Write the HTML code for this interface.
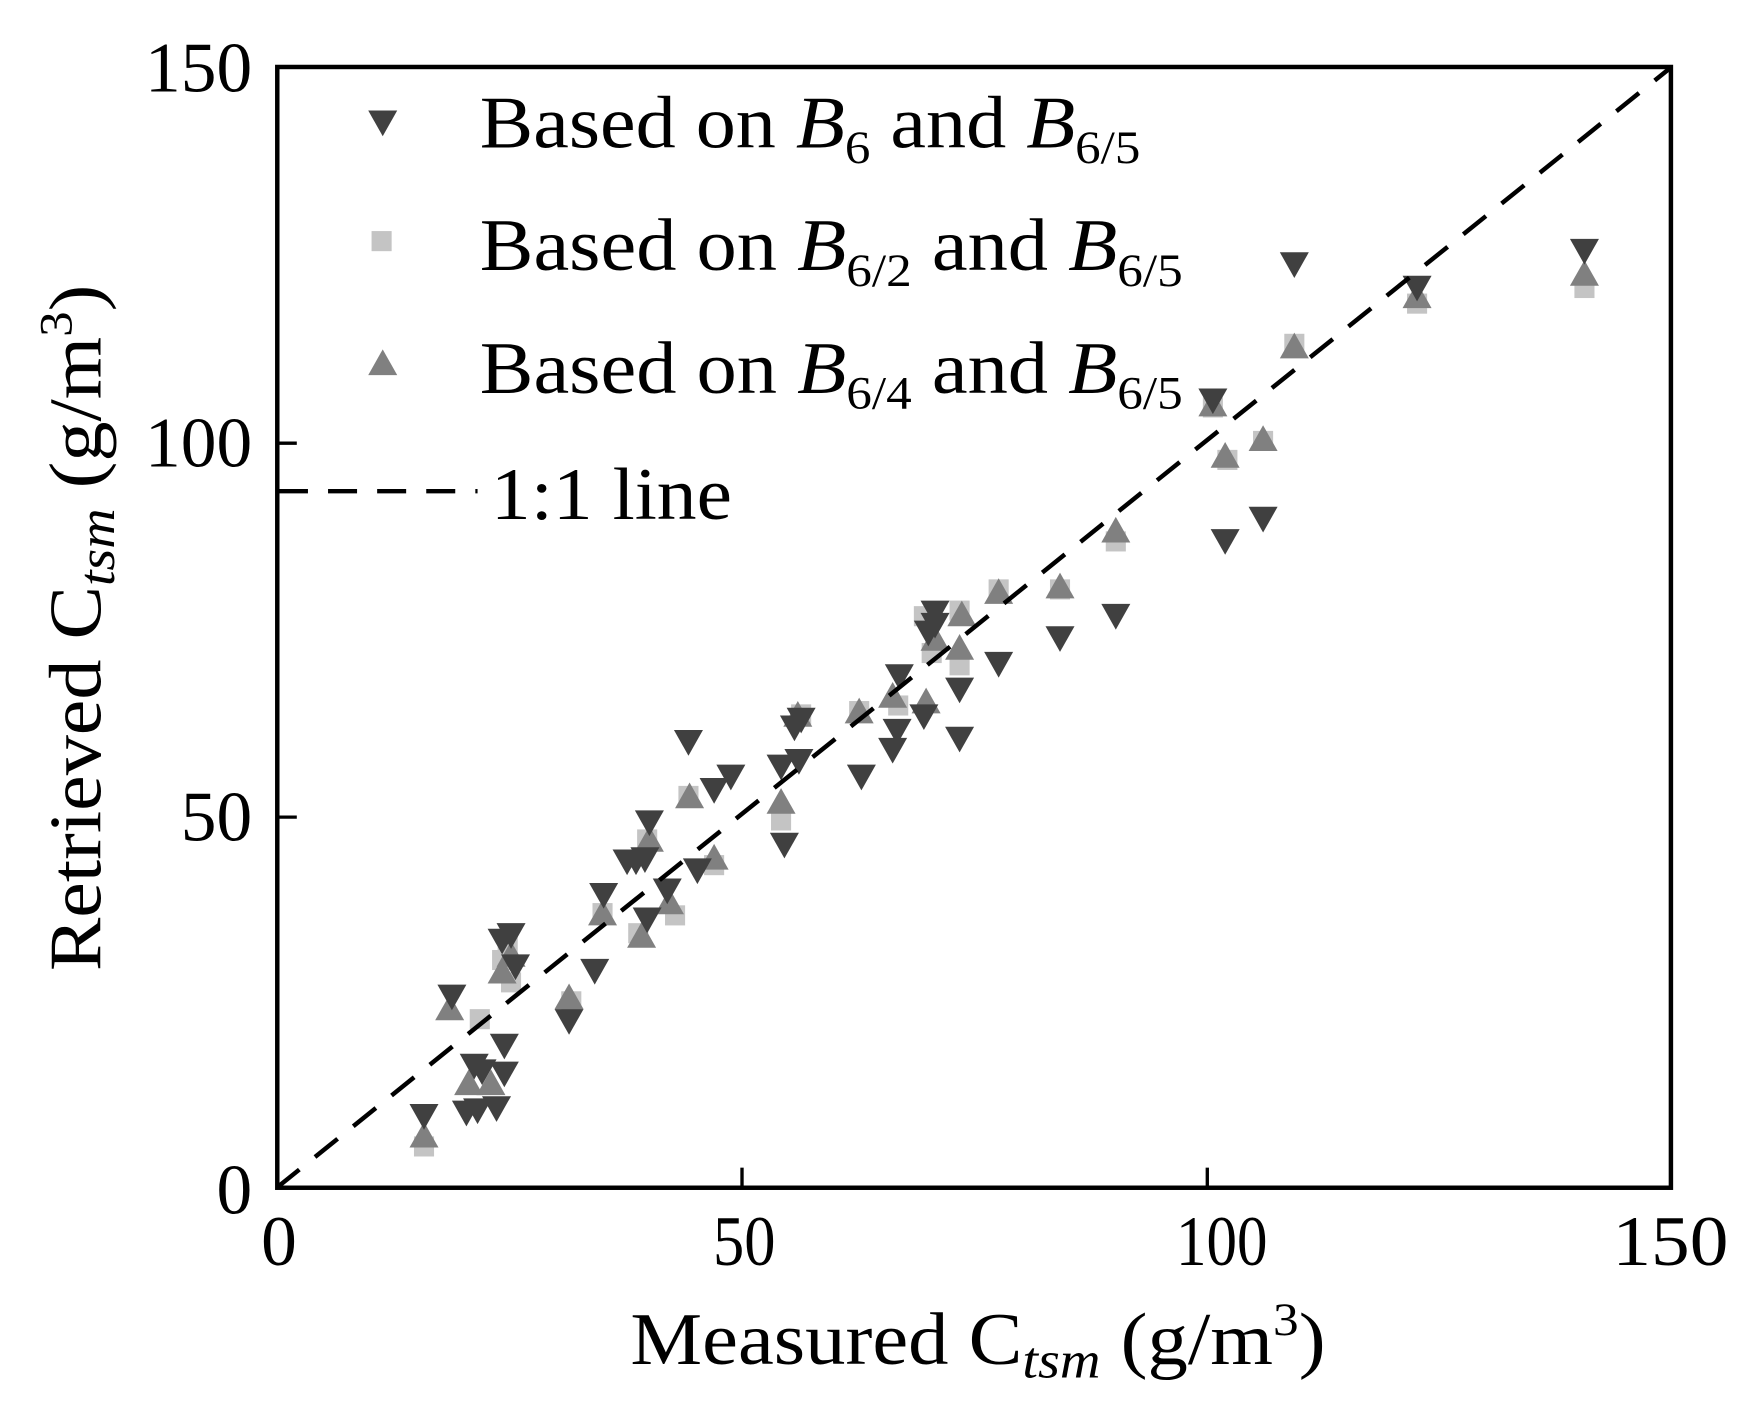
<!DOCTYPE html>
<html><head><meta charset="utf-8"><style>html,body{margin:0;padding:0;background:#fff;}svg{display:block}</style></head>
<body>
<svg width="1744" height="1411" viewBox="0 0 1563 1264" preserveAspectRatio="none" xmlns="http://www.w3.org/2000/svg" font-family="Liberation Serif, serif">
<defs>
<polygon id="dn" points="-13,-11 13,-11 0,12" fill="#404040"/>
<polygon id="up" points="-13,11 13,11 0,-12" fill="#808080"/>
<rect id="sq" x="-9" y="-9" width="18" height="18" fill="#c4c4c4"/>
</defs>
<rect x="0" y="0" width="1563" height="1264" fill="#fff"/>
<g>
<use href="#sq" x="380" y="1027"/><use href="#sq" x="430" y="913"/><use href="#sq" x="450" y="860"/><use href="#sq" x="455" y="848"/><use href="#sq" x="458" y="880"/><use href="#sq" x="512" y="897"/><use href="#sq" x="540" y="818"/><use href="#sq" x="572" y="836"/><use href="#sq" x="580" y="752"/><use href="#sq" x="605" y="820"/><use href="#sq" x="617" y="713"/><use href="#sq" x="640" y="775"/><use href="#sq" x="700" y="735"/><use href="#sq" x="718" y="640"/><use href="#sq" x="770" y="637"/><use href="#sq" x="805" y="632"/><use href="#sq" x="828" y="552"/><use href="#sq" x="835" y="585"/><use href="#sq" x="860" y="547"/><use href="#sq" x="860" y="596"/><use href="#sq" x="895" y="528"/><use href="#sq" x="950" y="528"/><use href="#sq" x="1000" y="485"/><use href="#sq" x="1087" y="365"/><use href="#sq" x="1100" y="412"/><use href="#sq" x="1132" y="395"/><use href="#sq" x="1160" y="308"/><use href="#sq" x="1270" y="272"/><use href="#sq" x="1420" y="258"/>
</g>
<g>
<use href="#up" x="380" y="1017"/><use href="#up" x="403" y="903"/><use href="#up" x="420" y="970"/><use href="#up" x="440" y="970"/><use href="#up" x="450" y="870"/><use href="#up" x="458" y="855"/><use href="#up" x="510" y="893"/><use href="#up" x="540" y="818"/><use href="#up" x="575" y="838"/><use href="#up" x="582" y="752"/><use href="#up" x="600" y="808"/><use href="#up" x="618" y="713"/><use href="#up" x="640" y="768"/><use href="#up" x="700" y="718"/><use href="#up" x="715" y="640"/><use href="#up" x="770" y="637"/><use href="#up" x="800" y="623"/><use href="#up" x="830" y="628"/><use href="#up" x="838" y="572"/><use href="#up" x="860" y="580"/><use href="#up" x="862" y="550"/><use href="#up" x="895" y="530"/><use href="#up" x="950" y="525"/><use href="#up" x="1000" y="475"/><use href="#up" x="1087" y="362"/><use href="#up" x="1098" y="408"/><use href="#up" x="1132" y="393"/><use href="#up" x="1160" y="310"/><use href="#up" x="1270" y="265"/><use href="#up" x="1420" y="245"/>
</g>
<g>
<use href="#dn" x="380" y="1000"/><use href="#dn" x="405" y="893"/><use href="#dn" x="418" y="997"/><use href="#dn" x="428" y="995"/><use href="#dn" x="425" y="955"/><use href="#dn" x="432" y="960"/><use href="#dn" x="445" y="993"/><use href="#dn" x="452" y="962"/><use href="#dn" x="452" y="937"/><use href="#dn" x="450" y="843"/><use href="#dn" x="458" y="838"/><use href="#dn" x="462" y="866"/><use href="#dn" x="510" y="915"/><use href="#dn" x="533" y="870"/><use href="#dn" x="541" y="802"/><use href="#dn" x="562" y="772"/><use href="#dn" x="570" y="772"/><use href="#dn" x="578" y="770"/><use href="#dn" x="582" y="737"/><use href="#dn" x="580" y="824"/><use href="#dn" x="598" y="798"/><use href="#dn" x="617" y="665"/><use href="#dn" x="625" y="780"/><use href="#dn" x="640" y="708"/><use href="#dn" x="655" y="696"/><use href="#dn" x="700" y="687"/><use href="#dn" x="703" y="757"/><use href="#dn" x="712" y="652"/><use href="#dn" x="716" y="682"/><use href="#dn" x="718" y="645"/><use href="#dn" x="772" y="696"/><use href="#dn" x="800" y="672"/><use href="#dn" x="804" y="655"/><use href="#dn" x="806" y="606"/><use href="#dn" x="828" y="642"/><use href="#dn" x="832" y="567"/><use href="#dn" x="838" y="549"/><use href="#dn" x="838" y="560"/><use href="#dn" x="860" y="618"/><use href="#dn" x="860" y="662"/><use href="#dn" x="895" y="595"/><use href="#dn" x="950" y="572"/><use href="#dn" x="1000" y="552"/><use href="#dn" x="1087" y="359"/><use href="#dn" x="1098" y="485"/><use href="#dn" x="1132" y="465"/><use href="#dn" x="1160" y="237"/><use href="#dn" x="1270" y="258"/><use href="#dn" x="1420" y="225"/>
</g>
<line x1="248" y1="1064" x2="1498" y2="60" stroke="#000" stroke-width="4" stroke-dasharray="26,18"/>
<rect x="248.5" y="60" width="1249" height="1004" fill="none" stroke="#000" stroke-width="4"/>
<g stroke="#000" stroke-width="3">
<line x1="248" y1="397" x2="266" y2="397"/><line x1="248" y1="732" x2="266" y2="732"/>
<line x1="665" y1="1064" x2="665" y2="1046"/><line x1="1082" y1="1064" x2="1082" y2="1046"/>
</g>
<g font-size="64" fill="#000">
<text x="226" y="82" text-anchor="end" textLength="96" lengthAdjust="spacingAndGlyphs">150</text>
<text x="226" y="418" text-anchor="end" textLength="96" lengthAdjust="spacingAndGlyphs">100</text>
<text x="226" y="753" text-anchor="end" textLength="64" lengthAdjust="spacingAndGlyphs">50</text>
<text x="226" y="1087" text-anchor="end" textLength="32" lengthAdjust="spacingAndGlyphs">0</text>
<text x="250" y="1133" text-anchor="middle" textLength="32" lengthAdjust="spacingAndGlyphs">0</text>
<text x="667" y="1133" text-anchor="middle" textLength="56" lengthAdjust="spacingAndGlyphs">50</text>
<text x="1095" y="1133" text-anchor="middle" textLength="82" lengthAdjust="spacingAndGlyphs">100</text>
<text x="1497" y="1133" text-anchor="middle" textLength="104" lengthAdjust="spacingAndGlyphs">150</text>
</g>
<text x="565" y="1222" font-size="66" textLength="623" lengthAdjust="spacingAndGlyphs">Measured C<tspan font-style="italic" font-size="46" dy="12">tsm</tspan><tspan dy="-12"> (g/m</tspan><tspan font-size="42" dy="-26">3</tspan><tspan dy="26">)</tspan></text>
<text transform="translate(90,870) rotate(-90)" font-size="66" textLength="615" lengthAdjust="spacingAndGlyphs">Retrieved C<tspan font-style="italic" font-size="46" dy="12">tsm</tspan><tspan dy="-12"> (g/m</tspan><tspan font-size="42" dy="-26">3</tspan><tspan dy="26">)</tspan></text>
<use href="#dn" x="343" y="110"/>
<rect x="333" y="207" width="18" height="18" fill="#c4c4c4"/>
<use href="#up" x="343" y="325"/>
<g font-size="66" fill="#000">
<text x="430" y="132" textLength="592" lengthAdjust="spacingAndGlyphs">Based on <tspan font-style="italic">B</tspan><tspan font-size="42" dy="14">6</tspan><tspan dy="-14"> and </tspan><tspan font-style="italic">B</tspan><tspan font-size="42" dy="14">6/5</tspan></text>
<text x="430" y="242" textLength="630" lengthAdjust="spacingAndGlyphs">Based on <tspan font-style="italic">B</tspan><tspan font-size="42" dy="14">6/2</tspan><tspan dy="-14"> and </tspan><tspan font-style="italic">B</tspan><tspan font-size="42" dy="14">6/5</tspan></text>
<text x="430" y="352" textLength="630" lengthAdjust="spacingAndGlyphs">Based on <tspan font-style="italic">B</tspan><tspan font-size="42" dy="14">6/4</tspan><tspan dy="-14"> and </tspan><tspan font-style="italic">B</tspan><tspan font-size="42" dy="14">6/5</tspan></text>
<text x="440" y="465" textLength="216" lengthAdjust="spacingAndGlyphs">1:1 line</text>
</g>
<line x1="250" y1="440" x2="428" y2="440" stroke="#000" stroke-width="4" stroke-dasharray="26,18"/>
</svg>
</body></html>
